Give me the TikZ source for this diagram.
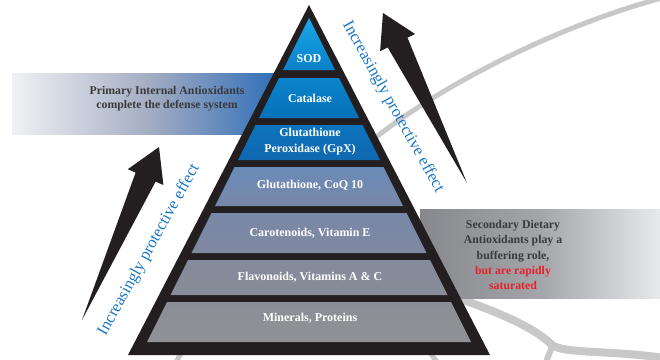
\documentclass[tikz,border=0pt]{standalone}
\usepackage{fontspec}
\setmainfont{Liberation Serif}
\definecolor{pyrblack}{HTML}{231F20}
\definecolor{arcgray}{HTML}{C8C8C8}
\definecolor{labelgray}{HTML}{3A3A3A}
\definecolor{effectblue}{HTML}{1A76C6}
\definecolor{warnred}{HTML}{E8202A}
\definecolor{bannerL}{HTML}{F0F1F4}
\definecolor{bannerM}{HTML}{A2ACC2}
\definecolor{bannerR}{HTML}{2468B8}
\definecolor{greyL}{HTML}{86888D}
\definecolor{greyM}{HTML}{A3A5A9}
\definecolor{greyR}{HTML}{E8E9EB}
% layer shading colours, top to bottom
\definecolor{sodA}{HTML}{1AA8E8}\definecolor{sodB}{HTML}{0A80C8}
\definecolor{catA}{HTML}{0A84CC}\definecolor{catB}{HTML}{0870B8}
\definecolor{gpxA}{HTML}{0B74BC}\definecolor{gpxB}{HTML}{1068B0}
\definecolor{coqA}{HTML}{6A8AB8}\definecolor{coqB}{HTML}{7888A8}
\definecolor{carA}{HTML}{7888A8}\definecolor{carB}{HTML}{8088A0}
\definecolor{flaA}{HTML}{848B9C}\definecolor{flaB}{HTML}{888C98}
\definecolor{minA}{HTML}{8C8E96}\definecolor{minB}{HTML}{909296}
% one band of the pyramid between two heights (inner apex at 309,18)
\newcommand\pyrlayer[4]{%
  \pgfmathsetmacro\pyrLT{309-0.5*(#1-18)}%
  \pgfmathsetmacro\pyrRT{309+0.5*(#1-18)}%
  \pgfmathsetmacro\pyrLB{309-0.5*(#2-18)}%
  \pgfmathsetmacro\pyrRB{309+0.5*(#2-18)}%
  \shade[top color=#3,bottom color=#4]
    (\pyrLT,#1) -- (\pyrRT,#1) -- (\pyrRB,#2) -- (\pyrLB,#2) -- cycle;}
\begin{document}
\begin{tikzpicture}[x=1pt,y=-1pt,
  pyrlabel/.style={text=white,font=\fontsize{12}{16}\selectfont\bfseries,align=center,inner sep=0pt},
  bannertext/.style={text=labelgray,font=\fontsize{11.8}{14}\selectfont\bfseries,align=center,inner sep=0pt},
  effecttext/.style={text=effectblue,font=\fontsize{16.5}{18}\selectfont,inner sep=0pt},
  bgarc/.style={draw=arcgray,line width=5pt}]
\useasboundingbox (0,0) rectangle (660,359);

% faint background branches
\draw[bgarc] (662,-2) .. controls (560,25) and (440,85) .. (370,142);
\draw[bgarc,line width=8pt] (440,292) .. controls (500,312) and (535,328) .. (552,345)
  .. controls (565,354) and (610,350) .. (664,358);
\draw[bgarc,line width=6pt] (553,344) -- (546,362);
\draw[bgarc] (183,350) -- (176,362);
\draw[bgarc] (428,350) -- (437,362);

% side banners
\shade[left color=bannerL,right color=bannerR,middle color=bannerM]
  (12,73) rectangle (290,134);
\shade[left color=greyL,right color=greyR,middle color=greyM]
  (420,209) rectangle (660,298);

% pyramid frame and bands
\fill[pyrblack] (309,5) -- (490,355) -- (128,355) -- cycle;
\pyrlayer{18}{70}{sodA}{sodB}
\pyrlayer{78}{118}{catA}{catB}
\pyrlayer{125}{160}{gpxA}{gpxB}
\pyrlayer{167}{206}{coqA}{coqB}
\pyrlayer{213}{253}{carA}{carB}
\pyrlayer{260}{295}{flaA}{flaB}
\pyrlayer{302}{342}{minA}{minB}

\node[pyrlabel] (sod) at (309,59) {SOD};
\node[pyrlabel] (catalase) at (310,98) {Catalase};
\node[pyrlabel] (gpx) at (310,142) {Glutathione\\Peroxidase (GpX)};
\node[pyrlabel] (coq) at (310,185) {Glutathione, CoQ 10};
\node[pyrlabel] (carot) at (310,233) {Carotenoids, Vitamin E};
\node[pyrlabel] (flav) at (310,277) {Flavonoids, Vitamins A \& C};
\node[pyrlabel] (miner) at (310,318) {Minerals, Proteins};

% banner captions
\node[bannertext] (primary) at (167,99) {Primary Internal Antioxidants\\complete the defense system};
\node[bannertext,font=\fontsize{11.8}{15.3}\selectfont\bfseries] (secondary) at (513,255)
  {Secondary Dietary\\Antioxidants play a\\buffering role,\\\textcolor{warnred}{but are rapidly}\\\textcolor{warnred}{saturated}};

% tapered arrows
\fill[pyrblack] (159,147) -- (163.4,185) -- (155.6,181.6) -- (82,320)
  -- (135.6,172.6) -- (127.8,169.2) -- cycle;
\fill[pyrblack] (383,13) -- (415.1,34) -- (407.5,37.7) -- (467,183)
  -- (387.7,47.5) -- (380.1,51.2) -- cycle;

\node[effecttext,rotate=61] (effectL) at (149,250) {Increasingly protective effect};
\node[effecttext,rotate=-61] (effectR) at (393,107) {Increasingly protective effect};
\end{tikzpicture}
\end{document}
